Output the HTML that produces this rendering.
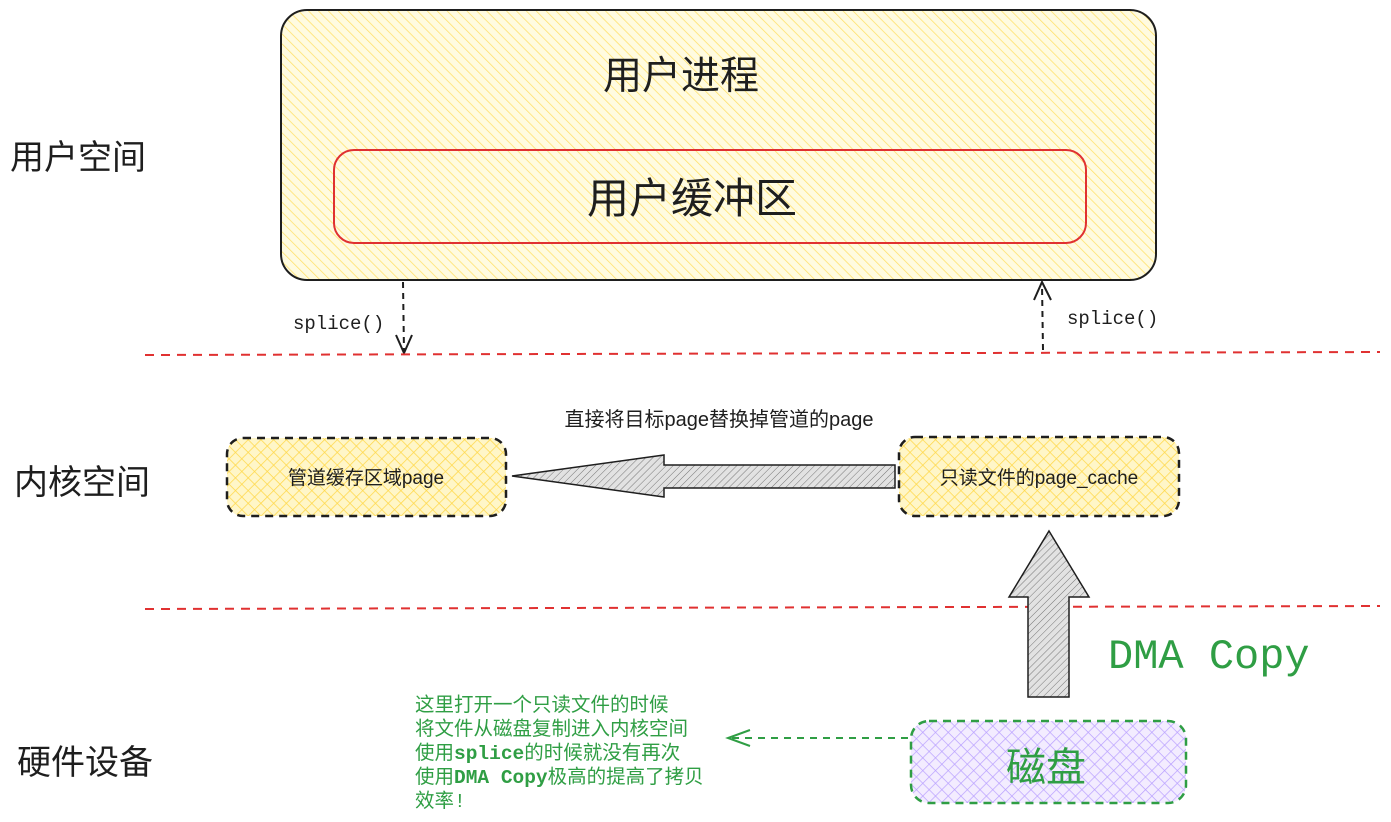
<!DOCTYPE html>
<html><head><meta charset="utf-8"><style>
html,body{margin:0;padding:0;background:#fff;width:1391px;height:822px;overflow:hidden}
text{font-family:"Liberation Sans","Noto Sans CJK SC",sans-serif}
.m{font-family:"Liberation Mono","Noto Sans CJK SC",monospace}
</style></head><body>
<svg width="1391" height="822" viewBox="0 0 1391 822" xmlns="http://www.w3.org/2000/svg">
<defs>
<pattern id="hy" width="7" height="7" patternUnits="userSpaceOnUse" patternTransform="rotate(-45)">
<rect width="7" height="7" fill="#fffbe0"/><line x1="0" y1="0" x2="0" y2="7" stroke="#ffe066" stroke-width="1.5"/></pattern>
<pattern id="cy" width="9" height="9" patternUnits="userSpaceOnUse" patternTransform="rotate(45)">
<rect width="9" height="9" fill="#fff6c8"/><line x1="0" y1="0" x2="0" y2="9" stroke="#ffd84a" stroke-width="1.5"/><line x1="0" y1="0" x2="9" y2="0" stroke="#ffd84a" stroke-width="1.5"/></pattern>
<pattern id="cp" width="9" height="9" patternUnits="userSpaceOnUse" patternTransform="rotate(45)">
<rect width="9" height="9" fill="#f3ecff"/><line x1="0" y1="0" x2="0" y2="9" stroke="#b9a0ff" stroke-width="1.4"/><line x1="0" y1="0" x2="9" y2="0" stroke="#b9a0ff" stroke-width="1.4"/></pattern>
<pattern id="hg" width="5" height="5" patternUnits="userSpaceOnUse" patternTransform="rotate(45)">
<rect width="5" height="5" fill="#e2e2e2"/><line x1="0" y1="0" x2="0" y2="5" stroke="#777" stroke-width="1"/></pattern>
</defs>
<rect x="281" y="10" width="875" height="270" rx="26" fill="url(#hy)" stroke="#1e1e1e" stroke-width="2"/>
<text x="681" y="89" font-size="39" text-anchor="middle" fill="#1e1e1e">用户进程</text>
<rect x="334" y="150" width="752" height="93" rx="20" fill="url(#hy)" stroke="#e03131" stroke-width="2"/>
<text x="692" y="213" font-size="42" text-anchor="middle" fill="#1e1e1e">用户缓冲区</text>
<text x="10" y="169" font-size="34" fill="#1e1e1e">用户空间</text>
<text x="14" y="494" font-size="34" fill="#1e1e1e">内核空间</text>
<text x="17" y="774" font-size="34" fill="#1e1e1e">硬件设备</text>
<line x1="403" y1="282" x2="404" y2="352" stroke="#1e1e1e" stroke-width="2" stroke-dasharray="6,5"/>
<polyline points="396,335 404,353 412,335" fill="none" stroke="#1e1e1e" stroke-width="2"/>
<text x="293" y="329" font-size="19" class="m" fill="#1e1e1e">splice()</text>
<line x1="1043" y1="350" x2="1042" y2="284" stroke="#1e1e1e" stroke-width="2" stroke-dasharray="6,5"/>
<polyline points="1034,300 1042,282 1051,300" fill="none" stroke="#1e1e1e" stroke-width="2"/>
<text x="1067" y="324" font-size="19" class="m" fill="#1e1e1e">splice()</text>
<line x1="145" y1="355" x2="1380" y2="352" stroke="#e03131" stroke-width="2" stroke-dasharray="9,7"/>
<line x1="145" y1="609" x2="1380" y2="606" stroke="#e03131" stroke-width="2" stroke-dasharray="9,7"/>
<rect x="227" y="438" width="279" height="78" rx="16" fill="url(#cy)" stroke="#1e1e1e" stroke-width="2.5" stroke-dasharray="8,6"/>
<text x="366" y="484" font-size="19" text-anchor="middle" fill="#1e1e1e">管道缓存区域page</text>
<rect x="899" y="437" width="280" height="79" rx="16" fill="url(#cy)" stroke="#1e1e1e" stroke-width="2.5" stroke-dasharray="8,6"/>
<text x="1039" y="484" font-size="19" text-anchor="middle" fill="#1e1e1e">只读文件的page_cache</text>
<text x="719" y="426" font-size="20" text-anchor="middle" fill="#1e1e1e">直接将目标page替换掉管道的page</text>
<polygon points="512,476 664,455 664,465 895,465 895,488 664,488 664,497" fill="url(#hg)" stroke="#1e1e1e" stroke-width="1.5"/>
<polygon points="1049,531 1089,597 1069,597 1069,697 1028,697 1028,597 1009,597" fill="url(#hg)" stroke="#1e1e1e" stroke-width="1.5"/>
<text x="1108" y="668" font-size="42" class="m" fill="#2f9e44">DMA Copy</text>
<rect x="911" y="721" width="275" height="82" rx="18" fill="url(#cp)" stroke="#2f9e44" stroke-width="2.5" stroke-dasharray="8,6"/>
<text x="1046" y="781" font-size="40" text-anchor="middle" fill="#2f9e44">磁盘</text>
<line x1="908" y1="738" x2="730" y2="738" stroke="#2f9e44" stroke-width="2" stroke-dasharray="7,6"/>
<polyline points="750,730 728,738 750,746" fill="none" stroke="#2f9e44" stroke-width="2"/>
<g font-size="19.5" fill="#2f9e44">
<text x="415" y="711" class="m">这里打开一个只读文件的时候</text>
<text x="415" y="735" class="m">将文件从磁盘复制进入内核空间</text>
<text x="415" y="759" class="m">使用<tspan font-weight="bold">splice</tspan>的时候就没有再次</text>
<text x="415" y="783" class="m">使用<tspan font-weight="bold">DMA Copy</tspan>极高的提高了拷贝</text>
<text x="415" y="807" class="m">效率!</text>
</g>
</svg>
</body></html>
